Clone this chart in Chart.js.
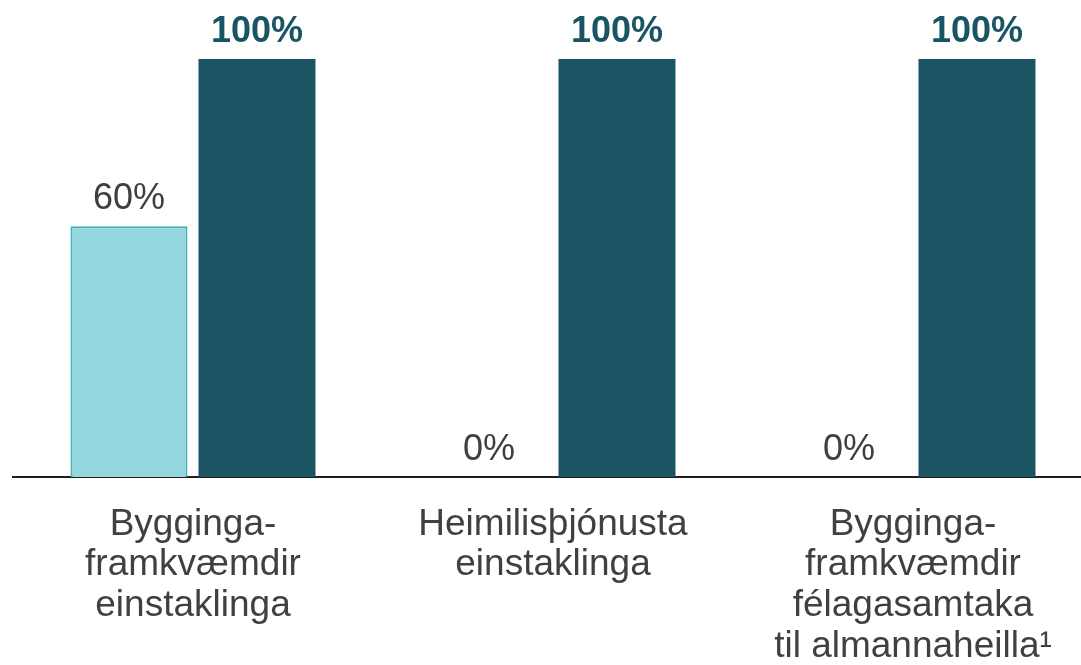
<!DOCTYPE html>
<html>
<head>
<meta charset="utf-8">
<script src="https://cdn.jsdelivr.net/npm/chart.js@4"></script>
<style>
  html, body { margin: 0; padding: 0; background: #fff; overflow: hidden; }
  #wrap { position: relative; width: 1093px; height: 665px; }
</style>
</head>
<body>
<div id="wrap"><canvas id="chart1"></canvas></div>
<script>
// Flokkar (hver lína sér)
var flokkar = [
    ["Bygginga-", "framkvæmdir", "einstaklinga"],
    ["Heimilisþjónusta", "einstaklinga"],
    ["Bygginga-", "framkvæmdir", "félagasamtaka", "til almannaheilla¹"]
];
var gildiA = [60, 0, 0];
var gildiB = [100, 100, 100];

// Teiknar prósentutölur fyrir ofan súlurnar
var merkiPlugin = {
    id: "merki",
    afterDatasetsDraw: function (chart) {
        var ctx = chart.ctx;
        ctx.save();
        ctx.textAlign = "center";
        ctx.textBaseline = "alphabetic";
        chart.data.datasets.forEach(function (ds, i) {
            var meta = chart.getDatasetMeta(i);
            meta.data.forEach(function (bar, j) {
                if (i == 0) {
                    ctx.font = "36px 'Liberation Sans', Arial, sans-serif";
                    ctx.fillStyle = "#404040";
                } else {
                    ctx.font = "bold 36px 'Liberation Sans', Arial, sans-serif";
                    ctx.fillStyle = "#1b5563";
                }
                ctx.fillText(ds.data[j] + "%", bar.x, bar.y - 17);
            });
        });
        ctx.restore();
    }
};

var datos = {
    labels: flokkar,
    datasets: [{
        data: gildiA,
        backgroundColor: "#93d6de",
        borderColor: "#3db1b3",
        borderWidth: function (c) { return c.raw > 0 ? 2 : 0; },
        borderSkipped: "bottom"
    }, {
        data: gildiB,
        backgroundColor: "#1b5563",
        borderWidth: 0
    }]
};

var configuracion = {
    type: "bar",
    data: datos,
    options: {
        responsive: true,
        maintainAspectRatio: false,
        animation: false,
        categoryPercentage: 0.711,
        barPercentage: 0.914,
        layout: { padding: { top: 59, left: 13, right: 0, bottom: 0 } },
        plugins: {
            legend: { display: false },
            tooltip: { enabled: false }
        },
        scales: {
            y: {
                display: false,
                min: 0,
                max: 100
            },
            x: {
                grid: { display: false, drawTicks: false },
                border: { display: true, color: "#1e1e1e", width: 2 },
                ticks: {
                    color: "#404040",
                    padding: 27,
                    maxRotation: 0,
                    autoSkip: false,
                    font: { family: "'Liberation Sans', Arial, sans-serif", size: 37, lineHeight: 1.1 }
                },
                afterFit: function (scale) { scale.height = 188; }
            }
        }
    },
    plugins: [merkiPlugin]
};

var contexto = document.getElementById("chart1").getContext("2d");
var miGrafico = new Chart(contexto, configuracion);
</script>
</body>
</html>
